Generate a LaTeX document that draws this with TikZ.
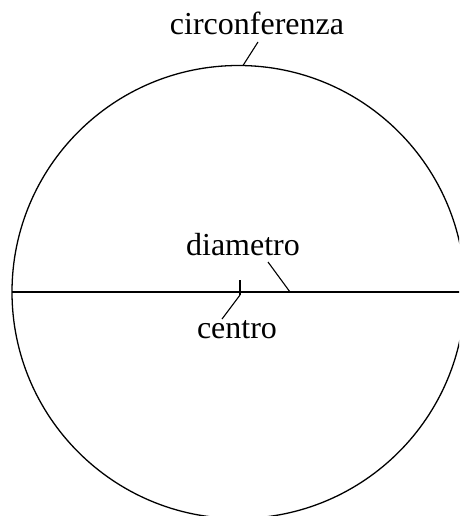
\documentclass[tikz,border=0pt]{standalone}
\usepackage{fontspec}
\setmainfont{Liberation Serif}
\begin{document}
\begin{tikzpicture}[x=1pt,y=1pt,
  lbl/.style={inner sep=0pt,anchor=base,font=\fontsize{32}{38}\selectfont},
  thin line/.style={line width=1.3pt},
  leader/.style={line width=1.1pt}]
\useasboundingbox (0,0) rectangle (459,-516);
\clip (0,0) rectangle (459,-516);
\fill[white] (0,0) rectangle (459,-516);
\coordinate (O) at (238.5,-292);
\draw[thin line] (O) circle (226.5);
\coordinate (L) at (12,-292);
\coordinate (R) at (470,-292);
\draw[line width=1.6pt] (L) -- (R);
% labels
\node[lbl] (circ) at (257,-35) {circonferenza};
\node[lbl] (diam) at (243,-255) {diametro};
\node[lbl] (cent) at (237,-338) {centro};
% leaders
\coordinate (c1) at (258,-42);
\coordinate (c2) at (243,-65.5);
\draw[leader] (c1) -- (c2);
\coordinate (d1) at (268,-262);
\coordinate (d2) at (290,-292);
\draw[leader] (d1) -- (d2);
\coordinate (t1) at (240,-280);
\coordinate (t2) at (240,-295);
\draw[line width=1.6pt] (t1) -- (t2);
\coordinate (e1) at (222,-319);
\draw[leader] (t2) -- (e1);
\end{tikzpicture}
\end{document}
